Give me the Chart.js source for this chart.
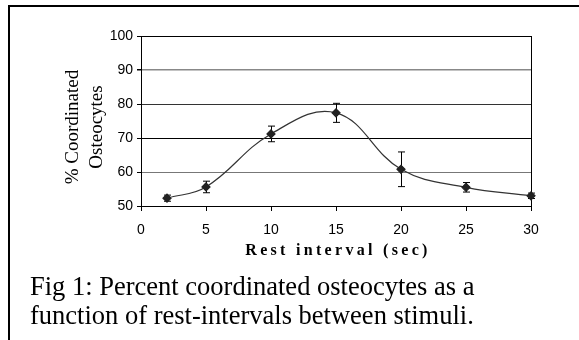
<!DOCTYPE html>
<html>
<head>
<meta charset="utf-8">
<script src="https://cdn.jsdelivr.net/npm/chart.js@4"></script>
<style>
  html, body { margin: 0; padding: 0; background: #fff; }
  #wrap { position: relative; width: 579px; height: 340px; overflow: hidden; }
  #frame { position: absolute; left: 8px; top: 5px; right: 0; bottom: -4px;
           border-left: 2px solid #000; border-top: 2px solid #000; }
  canvas { position: absolute; left: 0; top: 0; }
  .cap { position: absolute; left: 30px; font: 26.5px "Liberation Serif", "Times New Roman", serif;
         line-height: 29px; color: #000; white-space: nowrap; }
</style>
</head>
<body>
<div id="wrap">
  <div id="frame"></div>
  <canvas id="chart" width="579" height="340"></canvas>
  <div class="cap" style="top:272px">Fig 1: Percent coordinated osteocytes as a</div>
  <div class="cap" style="top:301px">function of rest-intervals between stimuli.</div>
</div>
<script>
// ========================
// DATA
// ========================
const restIntervals = [2, 5, 10, 15, 20, 25, 30];
const coordinated = [52.3, 55.6, 71.2, 77.4, 60.8, 55.5, 53.0];
const errors = [0.9, 1.7, 2.3, 2.8, 5.1, 1.4, 0.8];
const xTicks = [0, 5, 10, 15, 20, 25, 30];
const yTicks = [50, 60, 70, 80, 90, 100];
const xTitle = "Rest interval (sec)";
const yTitle = ["% Coordinated", "Osteocytes"];

// grid colours per y value (the original has uneven greys)
const gridShade = { 50: "#000", 60: "#777", 70: "#000", 80: "#333", 90: "#888", 100: "#000" };
const gridWidth = { 90: 1.5 };

// ========================
// ERROR BARS + TITLES
// ========================
const errorBars = {
  id: "errorBars",
  beforeDatasetsDraw(chart) {
    const { ctx, scales } = chart;
    ctx.save();
    ctx.strokeStyle = "#000";
    ctx.lineWidth = 1;
    restIntervals.forEach((xv, i) => {
      const px = Math.round(scales.x.getPixelForValue(xv)) + 0.5;
      const top = scales.y.getPixelForValue(coordinated[i] + errors[i]);
      const bot = scales.y.getPixelForValue(coordinated[i] - errors[i]);
      ctx.beginPath();
      ctx.moveTo(px, top); ctx.lineTo(px, bot);
      ctx.moveTo(px - 3.5, top); ctx.lineTo(px + 3.5, top);
      ctx.moveTo(px - 3.5, bot); ctx.lineTo(px + 3.5, bot);
      ctx.stroke();
    });
    ctx.restore();
  }
};

const axisTitles = {
  id: "axisTitles",
  afterDraw(chart) {
    const { ctx, chartArea } = chart;
    ctx.save();
    ctx.fillStyle = "#000";
    // x title, spaced letters
    ctx.font = "bold 16px 'Liberation Serif', 'Times New Roman', serif";
    ctx.letterSpacing = "3.3px";
    ctx.textAlign = "center";
    ctx.textBaseline = "alphabetic";
    ctx.fillText(xTitle, (chartArea.left + chartArea.right) / 2 + 2, chartArea.bottom + 49);
    // y title, two rotated lines
    ctx.letterSpacing = "0px";
    ctx.font = "19px 'Liberation Serif', 'Times New Roman', serif";
    ctx.textBaseline = "middle";
    const cy = (chartArea.top + chartArea.bottom) / 2 + 6;
    [73, 97].forEach((cx, i) => {
      ctx.save();
      ctx.translate(cx, cy);
      ctx.rotate(-Math.PI / 2);
      ctx.fillText(yTitle[i], 0, 0);
      ctx.restore();
    });
    ctx.restore();
  }
};

// ========================
// CHART
// ========================
new Chart(document.getElementById("chart"), {
  type: "line",
  data: {
    datasets: [{
      data: restIntervals.map((x, i) => ({ x, y: coordinated[i] })),
      borderColor: "#333",
      borderWidth: 1.2,
      tension: 0.4,
      pointStyle: "rectRot",
      pointRadius: 4,
      pointBackgroundColor: "#222",
      pointBorderColor: "#222",
      clip: false,
    }],
  },
  options: {
    responsive: false,
    animation: false,
    layout: { padding: { top: 36, right: 48, left: 0, bottom: 0 } },
    plugins: { legend: { display: false }, tooltip: { enabled: false } },
    scales: {
      x: {
        type: "linear",
        min: xTicks[0],
        max: xTicks[xTicks.length - 1],
        afterBuildTicks: (s) => { s.ticks = xTicks.map((v) => ({ value: v })); },
        afterFit: (s) => { s.height = 134; },
        ticks: { color: "#000", font: { family: "'Liberation Sans', Arial", size: 14 }, padding: 11 },
        grid: {
          color: (c) => (c.tick && c.tick.value === 30 ? "#000" : "rgba(0,0,0,0)"),
          tickColor: "#000",
          tickLength: 5,
        },
        border: { color: "#000", width: 1 },
      },
      y: {
        min: yTicks[0],
        max: yTicks[yTicks.length - 1],
        afterBuildTicks: (s) => { s.ticks = yTicks.map((v) => ({ value: v })); },
        afterFit: (s) => { s.width = 141; },
        ticks: { color: "#000", font: { family: "'Liberation Sans', Arial", size: 14 }, padding: 4 },
        grid: {
          color: (c) => (c.tick ? gridShade[c.tick.value] || "#000" : "#000"),
          lineWidth: (c) => (c.tick ? gridWidth[c.tick.value] || 1 : 1),
          tickColor: "#000",
          tickLength: 4,
        },
        border: { color: "#000", width: 1 },
      },
    },
  },
  plugins: [errorBars, axisTitles],
});
</script>
</body>
</html>
